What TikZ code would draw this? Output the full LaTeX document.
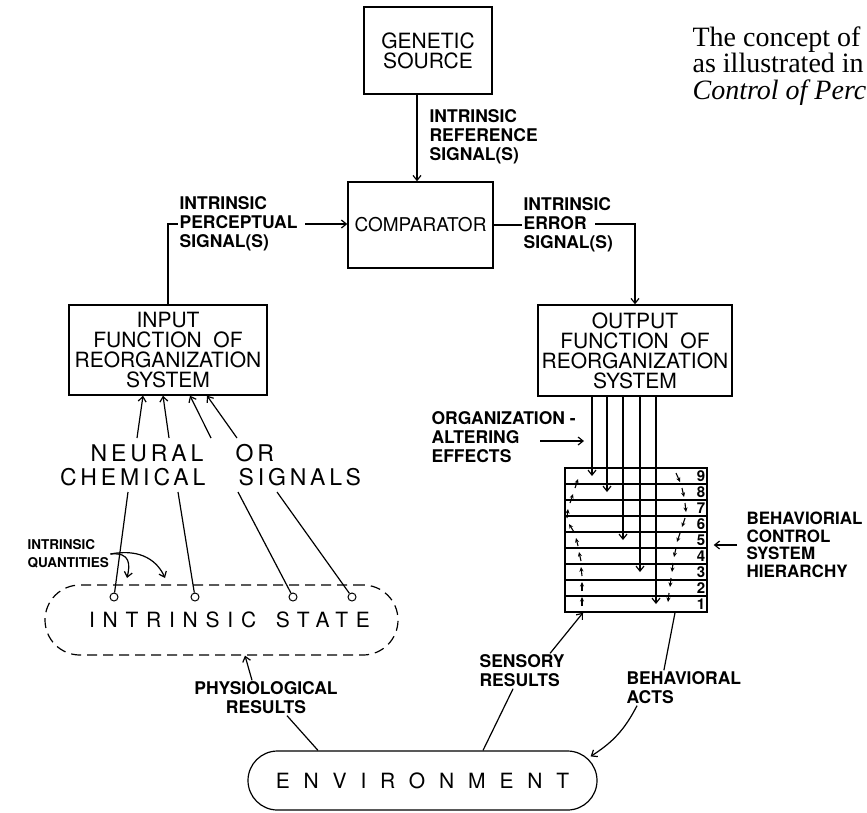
\documentclass[tikz,border=0pt]{standalone}
\usepackage{fontspec}
\setmainfont{Liberation Serif}
\setsansfont{TeX Gyre Heros}
\usetikzlibrary{arrows.meta}

\begin{document}
\begin{tikzpicture}[x=1pt,y=-1pt,line width=1.2pt,
  box/.style={draw,line width=1.4pt,align=center,inner sep=0pt,
    font=\sffamily\fontsize{21}{20}\selectfont},
  lbl/.style={align=left,inner sep=1pt,
    font=\sffamily\bfseries\fontsize{17.5}{19}\selectfont},
  sig/.style={inner sep=0pt,
    font=\sffamily\fontsize{23}{23}\selectfont\addfontfeature{LetterSpace=17}},
  num/.style={inner sep=0pt,font=\sffamily\bfseries\fontsize{15}{15}\selectfont},
  arr/.style={-{Straight Barb[length=5pt,width=8pt]}},
  flowarr/.style={line width=1.1pt,-{Stealth[length=4.5pt,width=4pt]}},
  pin/.style={circle,draw,line width=1pt,inner sep=0pt,minimum size=8pt}]
  \useasboundingbox (0,0) rectangle (867,812);
  \clip (0,0) rectangle (867,812);

% text of the page at top right
  \node[anchor=north west,align=left,inner sep=0pt,font=\fontsize{28}{26.5}\selectfont]
    (blurb) at (692,26) {The concept of\\as illustrated in\\\textit{Control of Percep}};

% boxes
  \node[box,minimum width=128,minimum height=87] (genetic) at (428,50.5) {GENETIC\\SOURCE};
  \node[box,minimum width=145,minimum height=86,font=\sffamily\fontsize{19}{20}\selectfont]
    (comp) at (420.5,225) {COMPARATOR};
  \node[box,minimum width=198,minimum height=90] (infn) at (168,350)
    {INPUT\\FUNCTION\ \ OF\\REORGANIZATION\\SYSTEM};
  \node[box,minimum width=194,minimum height=91] (outfn) at (635,350.5)
    {OUTPUT\\FUNCTION\ \ OF\\REORGANIZATION\\SYSTEM};

% signal labels
  \node[lbl,anchor=west] (refsig) at (428,137) {INTRINSIC\\REFERENCE\\SIGNAL(S)};
  \node[lbl,anchor=west] (percsig) at (178,224) {INTRINSIC\\PERCEPTUAL\\SIGNAL(S)};
  \node[lbl,anchor=west] (errsig) at (522,225) {INTRINSIC\\ERROR\\SIGNAL(S)};
  \coordinate (errout) at (595,224);

  \draw[arr] ([xshift=-11]genetic.south) -- ([xshift=-11]genetic.south |- comp.north);
  \draw (infn.north) |- (percsig.west);
  \draw[arr] ([xshift=6]percsig.east) -- (percsig.east -| comp.west);
  \draw (comp.east) -- (comp.east -| errsig.west);
  \draw[arr] (errout) -| (outfn.north);

% behavioral control system hierarchy
  \node[draw,line width=1.4pt,minimum width=142,minimum height=144,inner sep=0pt] (hier) at (636,540) {};
  \foreach \r in {1,...,9} {
    \coordinate (r\r) at (636,{476+(9-\r)*16});
    \node[num,anchor=east] at ([xshift=-2]hier.east |- r\r) {\r};
  }
  \foreach \r in {1,...,8}
    \draw ([yshift=8]hier.west |- r\r) -- ([yshift=8]hier.east |- r\r);
  \foreach \dx/\r in {-43/9,-28/8,-12/5,5/3,21/1}
    \draw[arr] ([xshift=\dx]outfn.south) -- ([xshift=\dx]outfn.south |- r\r);
  % upward loop at left, downward loop at right
  \foreach \ax/\ay/\bx/\by in {582/606/582/597, 582/591/582/582, 582/576/581/567, 581/561/579/552,
      578/546/576/538, 574/532/569/524, 567/518/568/509, 570/503/573/494, 575/488/578/479}
    \draw[flowarr] (\ax,\ay) -- (\bx,\by);
  \foreach \ax/\ay/\bx/\by in {676/473/680/482, 682/488/684/497, 685/503/686/512, 685/518/682/527,
      680/533/677/542, 676/548/674/557, 673/563/672/572, 671/578/670/587, 669/593/668/602}
    \draw[flowarr] (\ax,\ay) -- (\bx,\by);

  \node[lbl,anchor=west] (orgeff) at (430,437) {ORGANIZATION -\\ALTERING\\EFFECTS};
  \coordinate (orgtail) at (540,441);
  \draw[arr] (orgtail) -- ([xshift=-51]outfn.south |- orgtail);

  \node[lbl,anchor=west,font=\sffamily\bfseries\fontsize{17}{17.5}\selectfont]
    (behctl) at (745,545) {BEHAVIORIAL\\CONTROL\\SYSTEM\\HIERARCHY};
  \draw[arr] ([xshift=-8]behctl.west) -- ([xshift=6]hier.east |- behctl.west);

% neural or chemical signals
  \node[sig,anchor=east] (neural) at (204,453) {NEURAL};
  \node[sig,anchor=west] (orword) at (235,453) {OR};
  \node[sig,anchor=east] (chem) at (206,477) {CHEMICAL};
  \node[sig,anchor=west] (signals) at (238,477) {SIGNALS};
  \foreach \tx/\hx [count=\i] in {137/-25,169/-5,211/22,237/39} {
    \coordinate (up\i) at (\tx,438);
    \draw[arr] (up\i) -- ([xshift=\hx]infn.south);
  }

% intrinsic state
  \node[draw,dash pattern=on 10pt off 6pt,rounded corners=35pt,minimum width=353,minimum height=70,
    font=\sffamily\fontsize{21}{21}\selectfont\addfontfeature{LetterSpace=37}]
    (state) at (221.5,620) {\hspace{16pt}INTRINSIC\hspace{6pt} STATE};
  \foreach \tx/\px [count=\i] in {128/114,178/195,238/293,277/352} {
    \coordinate (dn\i) at (\tx,492);
    \node[pin] (pin\i) at (\px,597) {};
    \draw (dn\i) -- (pin\i);
  }

  \node[lbl,anchor=west,font=\sffamily\bfseries\fontsize{13.5}{18}\selectfont]
    (quant) at (26,554) {INTRINSIC\\QUANTITIES};
  \coordinate (qa) at (127,578);
  \coordinate (qb) at (165,578);
  \draw[arr] (quant.east) .. controls (131,552) and (130,565) .. (qa);
  \draw[arr] (quant.east) .. controls (142,548) and (158,562) .. (qb);

% environment and its results
  \node[draw,rounded corners=29.5pt,minimum width=349,minimum height=59,
    font=\sffamily\fontsize{21}{21}\selectfont\addfontfeature{LetterSpace=66}]
    (env) at (422.5,780.5) {ENVIRONMENT};

  \node[lbl,align=center] (physio) at (266,698) {PHYSIOLOGICAL\\RESULTS};
  \draw[arr] ([xshift=-14]physio.north) -- ([xshift=23.5]state.south);
  \draw ([xshift=-104.5]env.north) -- ([xshift=21]physio.south);

  \node[lbl,anchor=west] (sensory) at (478,671) {SENSORY\\RESULTS};
  \draw ([xshift=60.5]env.north) -- ([xshift=-9]sensory.south);
  \draw[arr] ([xshift=28]sensory.north) -- ([xshift=-53]hier.south);

  \node[lbl,anchor=west] (acts) at (625,688) {BEHAVIORAL\\ACTS};
  \draw ([xshift=39]hier.south) -- ([xshift=-20]acts.north);
  \draw[arr] ([xshift=12]acts.south west) to[bend left=15] ([shift={(-7,6)}]env.north east);

\end{tikzpicture}
\end{document}
